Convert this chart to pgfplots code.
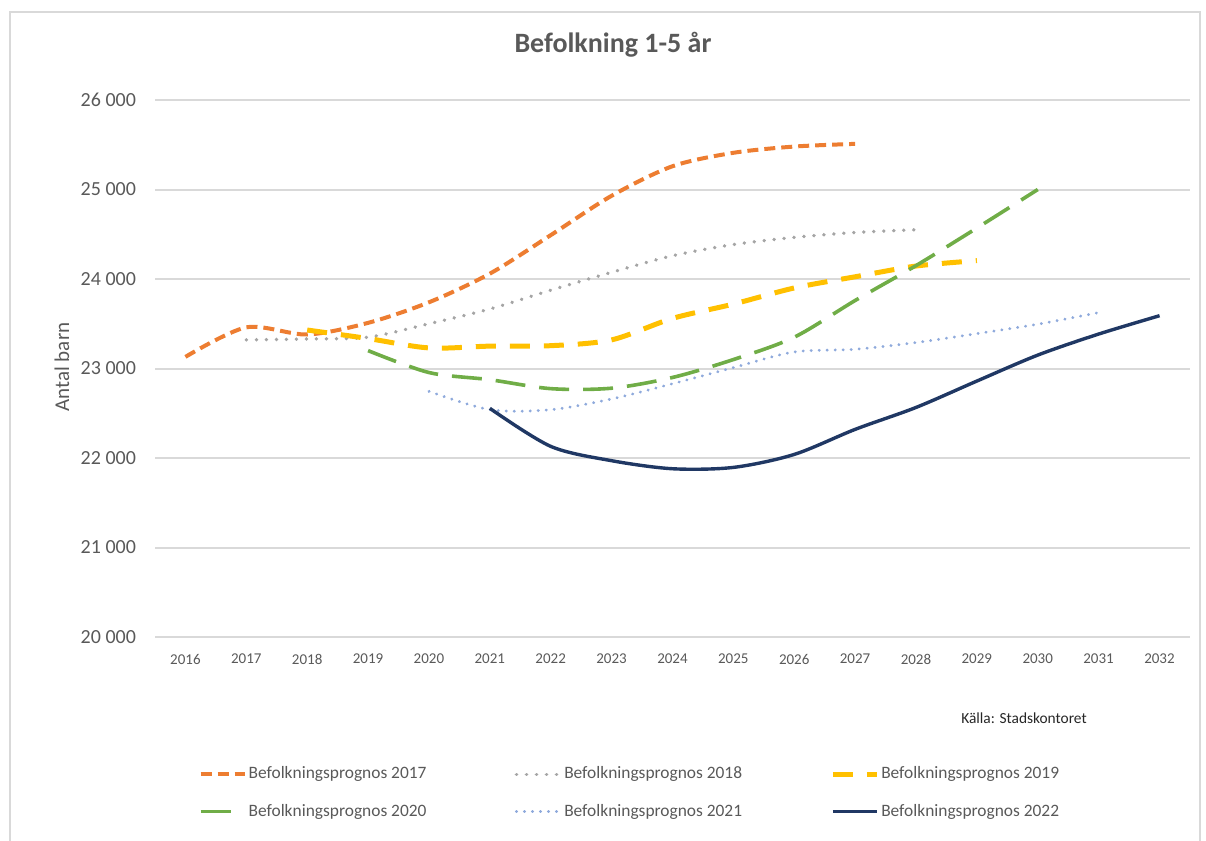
\documentclass[border=0pt]{standalone}
\usepackage{fontspec}
\setmainfont{Carlito}
\usepackage{pgfplots}
\pgfplotsset{compat=1.18}
\definecolor{c17}{HTML}{ED7D31}
\definecolor{c18}{HTML}{A5A5A5}
\definecolor{c19}{HTML}{FFC000}
\definecolor{c20}{HTML}{70AD47}
\definecolor{c21}{HTML}{8FAADC}
\definecolor{c22}{HTML}{203864}
\definecolor{txt}{HTML}{595959}
\definecolor{gridc}{HTML}{D9D9D9}
\begin{document}
\begin{tikzpicture}
\path[use as bounding box] (0pt,0pt) rectangle (603pt,-420.5pt);
\draw[gridc, line width=0.8pt] (5pt,-425pt) -- (5pt,-6pt) -- (600pt,-6pt) -- (600pt,-425pt);
\node[font=\fontsize{14}{16}\selectfont\bfseries, text=txt] at (306.5pt,-22.5pt) {Befolkning 1-5 år};
\node[rotate=90, font=\fontsize{10.5}{12}\selectfont, text=txt] at (31pt,-183.5pt) {Antal barn};
\node[font=\fontsize{7.7}{9}\selectfont, text=black!85] at (512pt,-359pt) {Källa: Stadskontoret};
\begin{axis}[
  at={(77.5pt,-318.5pt)}, anchor=south west,
  width=517.5pt, height=268.5pt, scale only axis,
  xmin=2015.5, xmax=2032.5, ymin=20000, ymax=26000,
  scaled y ticks=false, scaled x ticks=false,
  xtick={2016,...,2032},
  xticklabels={2016,2017,2018,2019,2020,2021,2022,2023,2024,2025,2026,2027,2028,2029,2030,2031,2032},
  ytick={20000,21000,22000,23000,24000,25000,26000},
  yticklabels={20 000,21 000,22 000,23 000,24 000,25 000,26 000},
  axis line style={draw=none},
  major tick length=0pt,
  ymajorgrids, grid style={gridc, line width=1pt},
  xticklabel style={font=\fontsize{7.5}{9}\selectfont, text=txt, yshift=-5pt},
  yticklabel style={font=\fontsize{10}{12}\selectfont, text=txt, xshift=-6pt},
  clip=false,
  legend columns=3,
  legend style={at={(0.036,-0.23)}, anchor=north west, draw=none, fill=none,
    font=\fontsize{8.7}{10}\selectfont, text=txt, nodes={inner sep=1pt}, row sep=9pt},
  legend cell align=left,
  legend image code/.code={\draw[#1] (0pt,0pt) -- (22pt,0pt);},
]
\addplot[c17, line width=2pt, dash pattern=on 5.5pt off 3pt, smooth, tension=0.5] coordinates {
(2016,23130) (2017,23460) (2018,23380) (2019,23510) (2020,23740) (2021,24060) (2022,24490) (2023,24930) (2024,25260) (2025,25410) (2026,25480) (2027,25510)};
\addlegendentry{\makebox[132pt][l]{Befolkningsprognos 2017}}
\addplot[c18, line width=1.8pt, line cap=round, dash pattern=on 0.1pt off 4.9pt, smooth, tension=0.5] coordinates {
(2017,23320) (2018,23330) (2019,23350) (2020,23500) (2021,23665) (2022,23875) (2023,24075) (2024,24260) (2025,24385) (2026,24465) (2027,24520) (2028,24550)};
\addlegendentry{\makebox[132pt][l]{Befolkningsprognos 2018}}
\addplot[c19, line width=2.5pt, dash pattern=on 10pt off 7pt, smooth, tension=0.5] coordinates {
(2018,23430) (2019,23335) (2020,23230) (2021,23250) (2022,23255) (2023,23320) (2024,23560) (2025,23720) (2026,23900) (2027,24025) (2028,24145) (2029,24205)};
\addlegendentry{\makebox[132pt][l]{Befolkningsprognos 2019}}
\addplot[c20, line width=1.8pt, dash pattern=on 15pt off 7pt, smooth, tension=0.5] coordinates {
(2019,23200) (2020,22955) (2021,22875) (2022,22775) (2023,22780) (2024,22900) (2025,23100) (2026,23350) (2027,23760) (2028,24150) (2029,24570) (2030,25000)};
\addlegendentry{\makebox[132pt][l]{Befolkningsprognos 2020}}
\addplot[c21, line width=1.5pt, line cap=round, dash pattern=on 0.1pt off 3.9pt, smooth, tension=0.5] coordinates {
(2020,22745) (2021,22540) (2022,22540) (2023,22660) (2024,22830) (2025,23010) (2026,23185) (2027,23215) (2028,23290) (2029,23390) (2030,23495) (2031,23625)};
\addlegendentry{\makebox[132pt][l]{Befolkningsprognos 2021}}
\addplot[c22, line width=1.7pt, smooth, tension=0.5] coordinates {
(2021,22555) (2022,22130) (2023,21970) (2024,21880) (2025,21895) (2026,22040) (2027,22320) (2028,22565) (2029,22860) (2030,23150) (2031,23385) (2032,23590)};
\addlegendentry{\makebox[132pt][l]{Befolkningsprognos 2022}}
\end{axis}
\end{tikzpicture}
\end{document}
